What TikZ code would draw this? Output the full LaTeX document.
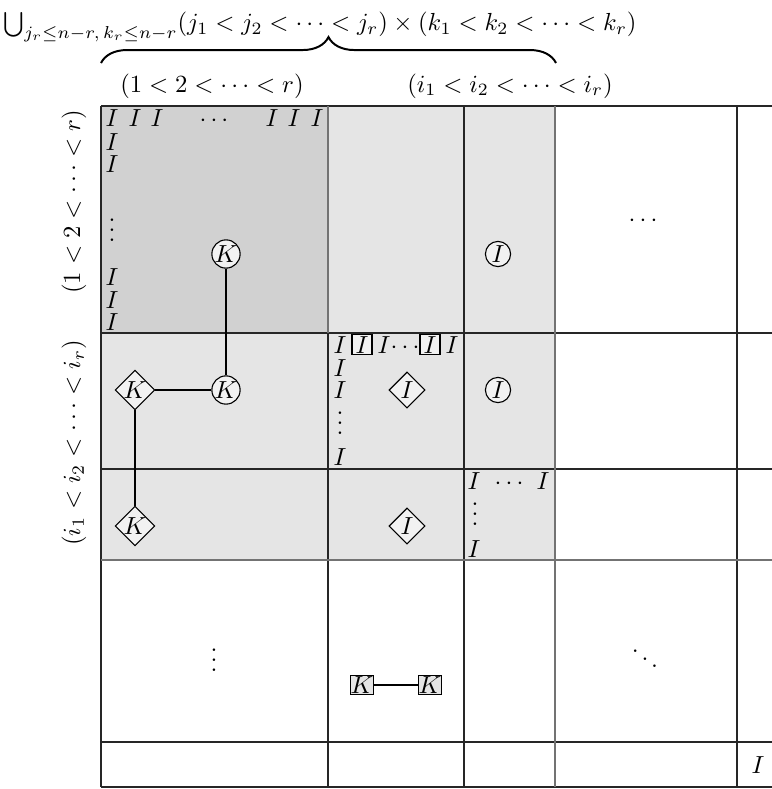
\documentclass[tikz,border=0pt]{standalone}
\usetikzlibrary{shapes.geometric,decorations.pathreplacing}
\newcommand\myvdots{\vbox{\baselineskip4pt \lineskiplimit0pt \hbox{.}\hbox{.}\hbox{.}}}
\begin{document}
\begin{tikzpicture}[x=0.405pt,y=-0.405pt,
  grid/.style={line width=0.45pt, draw=black!85},
  edgeline/.style={line width=0.7pt, draw=black!55},
  t/.style={inner sep=0pt, anchor=base},
  circ/.style={circle, draw, fill=black!5, inner sep=0pt, minimum size=10.2pt, line width=0.45pt},
  diam/.style={diamond, draw, fill=black!5, inner sep=0pt, aspect=1, minimum size=14.6pt, line width=0.45pt},
  boxI/.style={draw, fill=black!5, inner sep=0pt, minimum width=8.1pt, minimum height=8.1pt, anchor=base, line width=0.45pt},
  boxK/.style={draw, fill=black!10, inner sep=0.2pt, minimum height=7.8pt, line width=0.45pt},
  link/.style={line width=0.75pt},
]
\useasboundingbox (0,0) rectangle (772,789);
% shading
\fill[black!10] (101,106) rectangle (555,560);
\fill[black!18] (101,106) rectangle (328,333);
% grid
\foreach \y in {106,333,469,560,742,787} \draw[grid] (101,\y) -- (772,\y);
\foreach \x in {101,328,464,555,737} \draw[grid] (\x,106) -- (\x,787);
\draw[edgeline] (555,106) -- (555,787);
\draw[edgeline] (101,560) -- (772,560);
\draw[edgeline] (328,106) -- (328,333);
% title and brace
\node[t, anchor=base west] (title) at (3,31) {$\bigcup_{j_r\le n-r,\,k_r\le n-r}(j_1<j_2<\cdots<j_r)\times(k_1<k_2<\cdots<k_r)$};
\coordinate (bl) at (101,63);
\coordinate (br) at (556,63);
\draw[decorate, decoration={brace, amplitude=10.5pt}, line width=0.8pt] (bl) -- (br);
\node[t] (lab1) at (212,92) {$(1<2<\cdots<r)$};
\node[t] (lab2) at (510,92) {$(i_1<i_2<\cdots<i_r)$};
\node[rotate=90, inner sep=0pt] (vl1) at (74,202) {$(1<2<\cdots<r)$};
\node[rotate=90, inner sep=0pt] (vl2) at (74,443) {$(i_1<i_2<\cdots<i_r)$};
% dark block
\node[t] (a1) at (112,126) {$I$};
\node[t] (a2) at (135,126) {$I$};
\node[t] (a3) at (157,126) {$I$};
\node[t] (a4) at (214,126) {$\cdots$};
\node[t] (a5) at (272,126) {$I$};
\node[t] (a6) at (294,126) {$I$};
\node[t] (a7) at (317,126) {$I$};
\node[t] (a8) at (112,150) {$I$};
\node[t] (a9) at (112,172) {$I$};
\node[t] (a10) at (112,241) {\myvdots};
\node[t] (a11) at (112,285) {$I$};
\node[t] (a12) at (112,308) {$I$};
\node[t] (a13) at (112,330) {$I$};
% K graph
\node[circ] (k1) at (226,254) {$K$};
\node[circ] (k2) at (226,390) {$K$};
\node[diam] (k3) at (135,390) {$K$};
\node[diam] (k4) at (135,526) {$K$};
\draw[link] (k1) -- (k2);
\draw[link] (k2) -- (k3);
\draw[link] (k3) -- (k4);
% circles I
\node[circ] (c1) at (498,254) {$I$};
\node[circ] (c2) at (498,390) {$I$};
% cell B
\node[t] (b1) at (340,353) {$I$};
\node[boxI] (b2) at (362,353) {$I$};
\node[t] (b3) at (384,353) {$I$};
\node[t] (b4) at (405,353) {$\cdots$};
\node[boxI] (b5) at (430,353) {$I$};
\node[t] (b6) at (452,353) {$I$};
\node[t] (b7) at (340,376) {$I$};
\node[t] (b8) at (340,398) {$I$};
\node[t] (b9) at (340,434) {\myvdots};
\node[t] (b10) at (340,465) {$I$};
\node[diam] (d1) at (407,390) {$I$};
\node[diam] (d2) at (407,526) {$I$};
% cell C
\node[t] (e1) at (474,489) {$I$};
\node[t] (e2) at (509,489) {$\cdots$};
\node[t] (e3) at (543,489) {$I$};
\node[t] (e4) at (475,525) {\myvdots};
\node[t] (e5) at (474,557) {$I$};
% other cells
\node[t] (f1) at (643,226) {$\cdots$};
\node[t] (f2) at (214,671) {\myvdots};
\node[t] (f3) at (645,670) {$\ddots$};
\node[t] (f4) at (758,773) {$I$};
\node[boxK] (g1) at (362,685) {$K$};
\node[boxK] (g2) at (430,685) {$K$};
\draw[link] (g1) -- (g2);
\end{tikzpicture}
\end{document}
